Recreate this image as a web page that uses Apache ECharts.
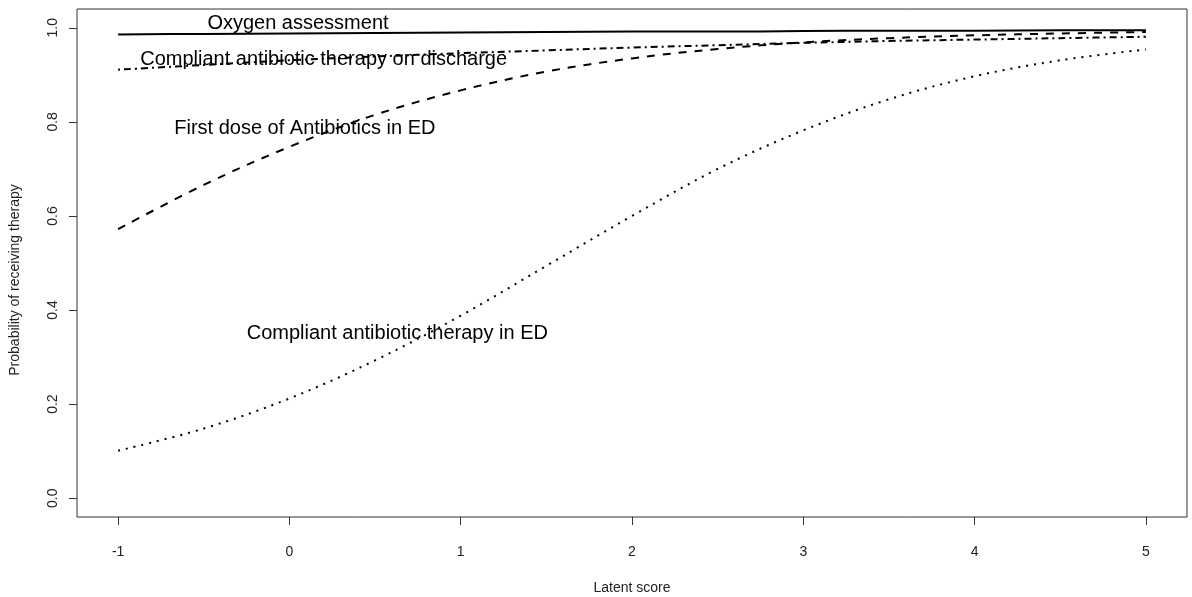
<!DOCTYPE html>
<html>
<head>
    <meta charset="utf-8">
    <title>Probability of receiving therapy</title>
    <script src="https://cdn.jsdelivr.net/npm/echarts@6/dist/echarts.min.js"></script>
    <style>
        html, body {
            margin: 0;
            padding: 0;
            background: #ffffff;
        }

        #main {
            width: 1192px;
            height: 597px;
        }
    </style>
</head>
<body>
<div id="main"></div>
<script>
    // latent score grid the curves were read at
    var latentScore = [-1, -0.5, 0, 0.5, 1, 1.5, 2, 2.5, 3, 3.5, 4, 4.5, 5];

    // probabilities
    var oxygen = [0.986, 0.987, 0.988, 0.989, 0.990, 0.991, 0.992, 0.992, 0.993, 0.994, 0.994, 0.995, 0.995];
    var dischargeTherapy = [0.911, 0.921, 0.931, 0.939, 0.946, 0.952, 0.958, 0.963, 0.968, 0.972, 0.975, 0.978, 0.981];
    var firstDose = [0.572, 0.666, 0.747, 0.815, 0.867, 0.907, 0.935, 0.955, 0.969, 0.978, 0.984, 0.988, 0.991];
    var edTherapy = [0.101, 0.148, 0.212, 0.293, 0.388, 0.494, 0.600, 0.700, 0.782, 0.848, 0.897, 0.931, 0.954];

    var xTicks = [-1, 0, 1, 2, 3, 4, 5];
    var yTicks = [0, 0.2, 0.4, 0.6, 0.8, 1.0];

    // curve labels written inside the plot, at data coordinates
    var noteText = ['Oxygen assessment', 'Compliant antibiotic therapy on discharge',
        'First dose of Antibiotics in ED', 'Compliant antibiotic therapy in ED'];
    var noteX = [0.05, 0.2, 0.09, 0.63];
    var noteY = [1.01, 0.933, 0.785, 0.351];

    function pairs(ys) {
        return latentScore.map(function (x, i) {
            return [x, ys[i]];
        });
    }

    var font = "'Liberation Sans', Arial, sans-serif";

    function curve(name, ys, type) {
        return {
            name: name,
            type: 'line',
            data: pairs(ys),
            smooth: 0.35,
            showSymbol: false,
            silent: true,
            lineStyle: {color: '#000', width: 2, type: type, cap: 'butt'}
        };
    }

    var chart = echarts.init(document.getElementById('main'), null, {renderer: 'canvas'});

    var option = {
        animation: false,
        backgroundColor: '#ffffff',
        grid: {
            left: 77, right: 5, top: 9, bottom: 80,
            outerBoundsMode: 'none',
            containLabel: false,
            show: true,
            borderColor: '#333',
            borderWidth: 1,
            backgroundColor: 'transparent'
        },
        xAxis: {
            type: 'value',
            min: -1.24,
            max: 5.24,
            name: 'Latent score',
            nameLocation: 'middle',
            nameGap: 64,
            nameTextStyle: {fontFamily: font, fontSize: 14, color: '#222'},
            axisLine: {show: false, onZero: false},
            splitLine: {show: false},
            axisTick: {show: true, length: 8, customValues: xTicks, lineStyle: {color: '#333'}},
            axisLabel: {
                customValues: xTicks,
                margin: 28,
                fontFamily: font,
                fontSize: 14,
                color: '#222'
            }
        },
        yAxis: {
            type: 'value',
            min: -0.04,
            max: 1.04,
            name: 'Probability of receiving therapy',
            nameLocation: 'middle',
            nameRotate: 90,
            nameGap: 55,
            nameTextStyle: {fontFamily: font, fontSize: 14, color: '#222', padding: [0, 34, 0, 0]},
            axisLine: {show: false, onZero: false},
            splitLine: {show: false},
            axisTick: {show: true, length: 8, customValues: yTicks, lineStyle: {color: '#333'}},
            axisLabel: {
                customValues: yTicks,
                rotate: 90,
                margin: 17,
                fontFamily: font,
                fontSize: 14,
                color: '#222',
                formatter: function (v) {
                    return v.toFixed(1);
                }
            }
        },
        series: [
            curve('Oxygen assessment', oxygen, 'solid'),
            curve('Compliant antibiotic therapy on discharge', dischargeTherapy, [2, 4, 7, 4]),
            curve('First dose of Antibiotics in ED', firstDose, [8, 8]),
            curve('Compliant antibiotic therapy in ED', edTherapy, [2, 6]),
            {
                name: 'notes',
                type: 'scatter',
                symbolSize: 0,
                silent: true,
                itemStyle: {opacity: 1},
                data: noteText.map(function (t, i) {
                    return {value: [noteX[i], noteY[i]], name: t};
                }),
                label: {
                    show: true,
                    position: 'inside',
                    formatter: '{b}',
                    fontFamily: font,
                    fontSize: 20,
                    color: '#000',
                    opacity: 1,
                    textBorderWidth: 0
                },
                z: 5
            }
        ]
    };

    chart.setOption(option);

    window.onresize = function () {
        chart.resize();
    };
</script>
</body>
</html>
